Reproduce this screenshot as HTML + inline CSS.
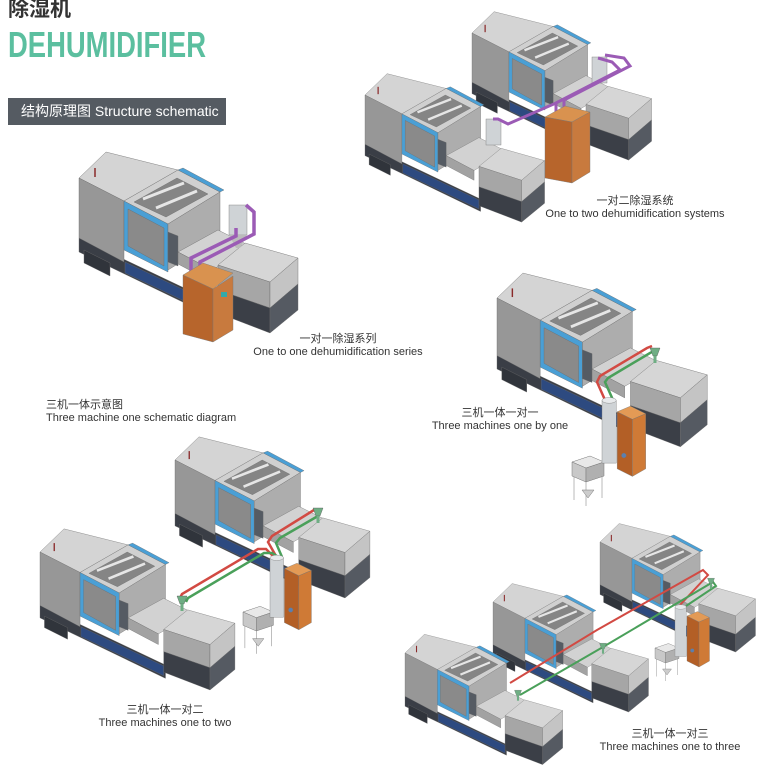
<!DOCTYPE html>
<html><head><meta charset="utf-8"><style>
html,body{margin:0;padding:0;background:#fff;}
svg{display:block;}
text{font-family:"Liberation Sans","Noto Sans CJK SC",sans-serif;fill:#333;}
</style></head><body>
<svg width="766" height="770" viewBox="0 0 766 770" xmlns="http://www.w3.org/2000/svg">
<defs>
<g id="m" stroke="#6a6a6a" stroke-width="0.4" stroke-linejoin="round">
  <polygon points="79,238 220,305 220,320 79,252" fill="#3a3e46"/>
  <polygon points="84,250 110,263 110,276 84,263" fill="#30343b"/>
  <polygon points="125,262 218,306 218,317 125,273" fill="#2d4a80"/>
  <polygon points="79,178 106,152 178,170 124,201" fill="#d4d4d4"/>
  <polygon points="79,178 124,201 124,262 79,238" fill="#979797"/>
  <polygon points="124,201 178,170 220,192 168,224" fill="#d0d0d0"/>
  <polygon points="134,202 177,178 208,194 166,217" fill="#858585"/>
  <line x1="143" y1="199" x2="184" y2="183" stroke="#e6e6e6" stroke-width="3"/>
  <line x1="156" y1="208" x2="197" y2="191" stroke="#e6e6e6" stroke-width="3"/>
  <polygon points="178,170 183,168 224,190 220,192" fill="#4a9fd5"/>
  <polygon points="124,201 168,224 168,272 124,250" fill="#4a9fd5"/>
  <polygon points="128,209 164,228 164,266 128,246" fill="#8a8a8a"/>
  <polygon points="168,224 220,192 220,238 168,270" fill="#adadad"/>
  <polygon points="168,232 178,236 178,266 168,262" fill="#555b63"/>
  <polygon points="178,252 218,230 252,247 212,270" fill="#d2d2d2"/>
  <polygon points="178,252 212,270 212,282 178,264" fill="#a2a2a2"/>
  <polygon points="218,265 245,243 298,258 270,282" fill="#d6d6d6"/>
  <polygon points="218,265 270,282 270,308 218,290" fill="#a6a6a6"/>
  <polygon points="218,290 270,308 270,333 218,313" fill="#3b3f47"/>
  <polygon points="270,282 298,258 298,284 270,308" fill="#c4c4c4"/>
  <polygon points="270,308 298,284 298,310 270,333" fill="#555a62"/>
  <line x1="95" y1="168" x2="95" y2="177" stroke="#8a2a2a" stroke-width="1.5"/>
</g>
<g id="d" stroke="#777" stroke-width="0.4">
  <rect x="0" y="-8" width="15" height="66" fill="#cfd3d6"/>
  <ellipse cx="7.5" cy="-8" rx="7.5" ry="3" fill="#e8eaec"/>
  <polygon points="16,4 30,-2 46,6 32,12" fill="#e39a55"/>
  <polygon points="16,4 32,12 32,72 16,64" fill="#b35f26"/>
  <polygon points="32,12 46,6 46,64 32,72" fill="#cf7a36"/>
  <circle cx="23" cy="50" r="2.5" fill="#5b7fb0"/>
</g>
<g id="c" stroke="#777" stroke-width="0.5">
  <line x1="2" y1="14" x2="2" y2="38"/><line x1="14" y1="20" x2="14" y2="44"/><line x1="30" y1="14" x2="30" y2="36"/>
  <polygon points="10,28 22,28 16,36" fill="#ccc"/>
  <polygon points="0,0 18,-6 32,0 14,6" fill="#e8e8e8"/>
  <polygon points="0,0 14,6 14,20 0,14" fill="#c8c8c8"/>
  <polygon points="14,6 32,0 32,14 14,20" fill="#b0b0b0"/>
</g>
<g id="l"><polygon points="-5,-4 5,-4 2,4 -2,4" fill="#6fae84" stroke="#555" stroke-width="0.4"/><rect x="-1.5" y="4" width="3" height="7" fill="#6fae84"/></g>
</defs>

<text x="8" y="16" font-size="21" font-weight="bold" fill="#333">除湿机</text>
<text x="8" y="57" font-size="36" font-weight="bold" textLength="198" lengthAdjust="spacingAndGlyphs" style="fill:#5bbf9f">DEHUMIDIFIER</text>
<rect x="8" y="98" width="218" height="27" fill="#555b62"/>
<text x="21" y="116" font-size="14" style="fill:#fff">结构原理图 Structure schematic</text>

<use href="#m"/>
<rect x="229" y="205" width="18" height="30" fill="#cfd3d6" stroke="#777" stroke-width="0.4"/>
<polygon points="229,235 247,235 240,248 236,248" fill="#bbb"/>
<polyline points="191,275 191,258 236,236 236,228" fill="none" stroke="#9b5bb5" stroke-width="3.5"/>
<polyline points="200,278 200,262 254,234 254,212 246,205" fill="none" stroke="#9b5bb5" stroke-width="3.5"/>
<polygon points="183,275 203,263 233,273 213,289" fill="#d9924f" stroke="#777" stroke-width="0.4"/>
<polygon points="183,275 213,289 213,342 183,334" fill="#b7652c" stroke="#777" stroke-width="0.4"/>
<polygon points="213,289 233,276 233,330 213,342" fill="#c87a3e" stroke="#777" stroke-width="0.4"/>
<rect x="221" y="292" width="6" height="5" fill="#3aa"/>
<text x="338" y="342" font-size="11" text-anchor="middle">一对一除湿系列</text>
<text x="338" y="355" font-size="11" text-anchor="middle">One to one dehumidification series</text>

<use href="#m" transform="translate(472,33) scale(0.82) translate(-79,-178)"/>
<rect x="592" y="57" width="15" height="26" fill="#cfd3d6" stroke="#777" stroke-width="0.4"/>
<use href="#m" transform="translate(365,95) scale(0.82) translate(-79,-178)"/>
<rect x="486" y="119" width="15" height="26" fill="#cfd3d6" stroke="#777" stroke-width="0.4"/>
<polyline points="556,115 556,103 508,124 498,119 493,119" fill="none" stroke="#9b5bb5" stroke-width="3"/>
<polyline points="564,112 564,100 630,66 624,58 605,55" fill="none" stroke="#9b5bb5" stroke-width="3"/>
<polyline points="556,103 620,70 612,62 598,58" fill="none" stroke="#9b5bb5" stroke-width="3"/>
<polygon points="545,117 565,106 590,112 572,122" fill="#d9924f" stroke="#777" stroke-width="0.4"/>
<polygon points="545,117 572,122 572,183 545,178" fill="#b7652c" stroke="#777" stroke-width="0.4"/>
<polygon points="572,122 590,112 590,172 572,183" fill="#c87a3e" stroke="#777" stroke-width="0.4"/>
<text x="635" y="204" font-size="11" text-anchor="middle">一对二除湿系统</text>
<text x="635" y="217" font-size="11" text-anchor="middle">One to two dehumidification systems</text>

<text x="46" y="408" font-size="11">三机一体示意图</text>
<text x="46" y="421" font-size="11">Three machine one schematic diagram</text>

<use href="#m" transform="translate(497,298) scale(0.96) translate(-79,-178)"/>
<polyline points="605,400 597,382 600,376 647,348 652,346" fill="none" stroke="#d24a43" stroke-width="2.5"/>
<polyline points="613,400 605,382 608,378 650,353 654,351" fill="none" stroke="#4aa05a" stroke-width="2.5"/>
<use href="#l" transform="translate(655,352)"/>
<use href="#c" transform="translate(572,462)"/>
<use href="#d" transform="translate(602,408) scale(0.95)"/>
<text x="500" y="416" font-size="11" text-anchor="middle">三机一体一对一</text>
<text x="500" y="429" font-size="11" text-anchor="middle">Three machines one by one</text>

<use href="#m" transform="translate(175,460) scale(0.89) translate(-79,-178)"/>
<use href="#m" transform="translate(40,552) scale(0.89) translate(-79,-178)"/>
<polyline points="276,556 268,542 272,536 314,510" fill="none" stroke="#d24a43" stroke-width="2.5"/>
<polyline points="282,557 276,543 280,538 318,516" fill="none" stroke="#4aa05a" stroke-width="2.5"/>
<polyline points="274,557 266,549 258,549 182,594 180,598" fill="none" stroke="#d24a43" stroke-width="2.5"/>
<polyline points="280,558 272,553 264,553 188,598 186,602" fill="none" stroke="#4aa05a" stroke-width="2.5"/>
<use href="#l" transform="translate(318,512)"/>
<use href="#l" transform="translate(182,600)"/>
<use href="#c" transform="translate(243,612) scale(0.95)"/>
<use href="#d" transform="translate(270,565) scale(0.9)"/>
<text x="165" y="713" font-size="11" text-anchor="middle">三机一体一对二</text>
<text x="165" y="726" font-size="11" text-anchor="middle">Three machines one to two</text>

<use href="#m" transform="translate(600,542) scale(0.71) translate(-79,-178)"/>
<use href="#m" transform="translate(493,602) scale(0.71) translate(-79,-178)"/>
<use href="#m" transform="translate(405,653) scale(0.72) translate(-79,-178)"/>
<polyline points="510,683 597,630 703,570 708,575 680,605" fill="none" stroke="#d24a43" stroke-width="2"/>
<polyline points="520,695 603,647 713,582 716,586 686,606" fill="none" stroke="#4aa05a" stroke-width="2"/>
<use href="#l" transform="translate(518,693) scale(0.7)"/>
<use href="#l" transform="translate(603,646) scale(0.7)"/>
<use href="#l" transform="translate(711,581) scale(0.7)"/>
<use href="#c" transform="translate(655,648) scale(0.75)"/>
<use href="#d" transform="translate(675,613) scale(0.75)"/>
<text x="670" y="737" font-size="11" text-anchor="middle">三机一体一对三</text>
<text x="670" y="750" font-size="11" text-anchor="middle">Three machines one to three</text>
</svg>
</body></html>
